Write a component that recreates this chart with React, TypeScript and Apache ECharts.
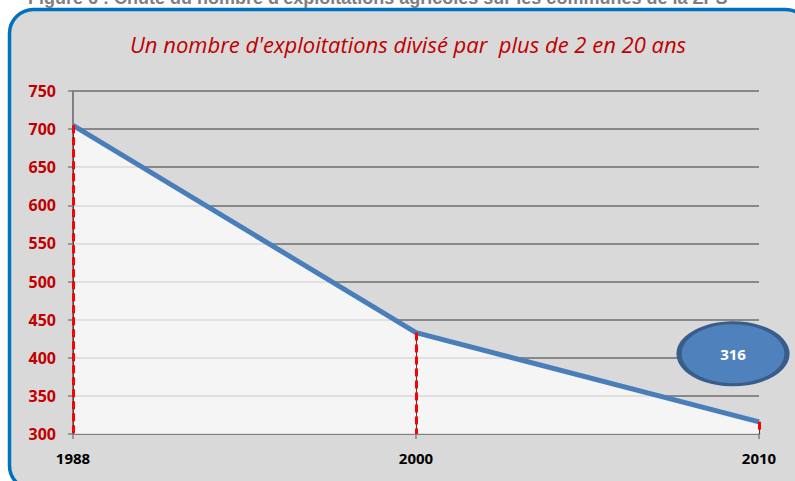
import React, { useEffect, useRef } from "react";
import * as echarts from "echarts";

const years = ["1988", "2000", "2010"];
const exploitations = [705, 433, 316];
const yTicks = { min: 300, max: 750, interval: 50 };
const titleText = "Un nombre d'exploitations divisé par  plus de 2 en 20 ans";
const figureText = "Figure 6 : Chute du nombre d'exploitations agricoles sur les communes de la ZPS";

export default function App() {
  const ref = useRef<HTMLDivElement>(null);
  useEffect(() => {
    if (!ref.current) return;
    const chart = echarts.init(ref.current, undefined, { renderer: "svg" });
    const last = exploitations.length - 1;
    const dropLines: any[] = [];
    exploitations.forEach((v, i) => {
      dropLines.push([
        { coord: [i, v], lineStyle: { color: "#404040", width: 1, type: "solid" } },
        { coord: [i, yTicks.min] },
      ]);
    });
    exploitations.forEach((v, i) => {
      dropLines.push([
        { coord: [i, v], lineStyle: { color: "#ff0000", width: 3, type: [8, 4] } },
        { coord: [i, yTicks.min] },
      ]);
    });
    chart.setOption({
      animation: false,
      backgroundColor: "#ffffff",
      graphic: [
        {
          type: "text",
          x: 28,
          y: 7,
          style: {
            text: figureText,
            fill: "#7f7f7f",
            font: "bold 18px 'Liberation Sans', Arial, sans-serif",
            align: "left",
            verticalAlign: "bottom",
          },
          z: 0,
        },
        {
          type: "rect",
          shape: { x: 9.5, y: 9.5, width: 800, height: 480, r: 24 },
          style: { fill: "#d9d9d9", stroke: "#0070c0", lineWidth: 3.5 },
          z: -10,
          silent: true,
        },
        {
          type: "text",
          x: 408,
          y: 44,
          style: {
            text: titleText,
            fill: "#c00000",
            font: "italic 22px 'Liberation Sans Narrow', 'Open Sans', sans-serif",
            align: "center",
            verticalAlign: "middle",
          },
        },
      ],
      grid: { left: 73, right: 36, top: 91, bottom: 47 },
      xAxis: {
        type: "category",
        data: years,
        boundaryGap: false,
        axisLine: { lineStyle: { color: "#808080", width: 2 } },
        axisTick: { alignWithLabel: true, length: 5, lineStyle: { color: "#808080", width: 1.5 } },
        axisLabel: {
          color: "#000000",
          fontWeight: "bold",
          fontSize: 15,
          fontFamily: "'Open Sans', sans-serif",
          margin: 16,
        },
      },
      yAxis: {
        type: "value",
        min: yTicks.min,
        max: yTicks.max,
        interval: yTicks.interval,
        axisLine: { show: true, lineStyle: { color: "#808080", width: 2 } },
        axisTick: { show: true, length: 5, lineStyle: { color: "#808080", width: 1.5 } },
        axisLabel: {
          color: "#c00000",
          fontWeight: "bold",
          fontSize: 16,
          fontFamily: "'Open Sans', sans-serif",
          margin: 17,
        },
        splitLine: { lineStyle: { color: "#888888", width: 2 } },
      },
      series: [
        {
          type: "line",
          data: exploitations,
          symbol: "none",
          lineStyle: { color: "#4a7ebb", width: 5 },
          areaStyle: { color: "#ffffff", opacity: 0.74, origin: "start" },
          z: 3,
          markPoint: {
            silent: true,
            data: [
              {
                coord: [last, exploitations[last]],
                value: exploitations[last],
                symbol: "circle",
                symbolSize: [108, 62],
                symbolOffset: [-26, -68],
                itemStyle: { color: "#4f81bd", borderColor: "#385d8a", borderWidth: 4 },
                label: {
                  show: true,
                  position: "inside",
                  color: "#ffffff",
                  fontWeight: "bold",
                  fontSize: 15,
                  fontFamily: "'Open Sans', sans-serif",
                  formatter: "{c}",
                },
              },
            ],
            z: 5,
          },
        },
        {
          type: "line",
          data: exploitations,
          symbol: "none",
          silent: true,
          lineStyle: { opacity: 0 },
          z: 4,
          markLine: {
            silent: true,
            symbol: "none",
            label: { show: false },
            data: dropLines,
          },
        },
      ],
    });
    return () => chart.dispose();
  }, []);
  return (
    <div
      ref={ref}
      style={{ position: "fixed", left: 0, top: 0, width: 795, height: 481 }}
    />
  );
}
